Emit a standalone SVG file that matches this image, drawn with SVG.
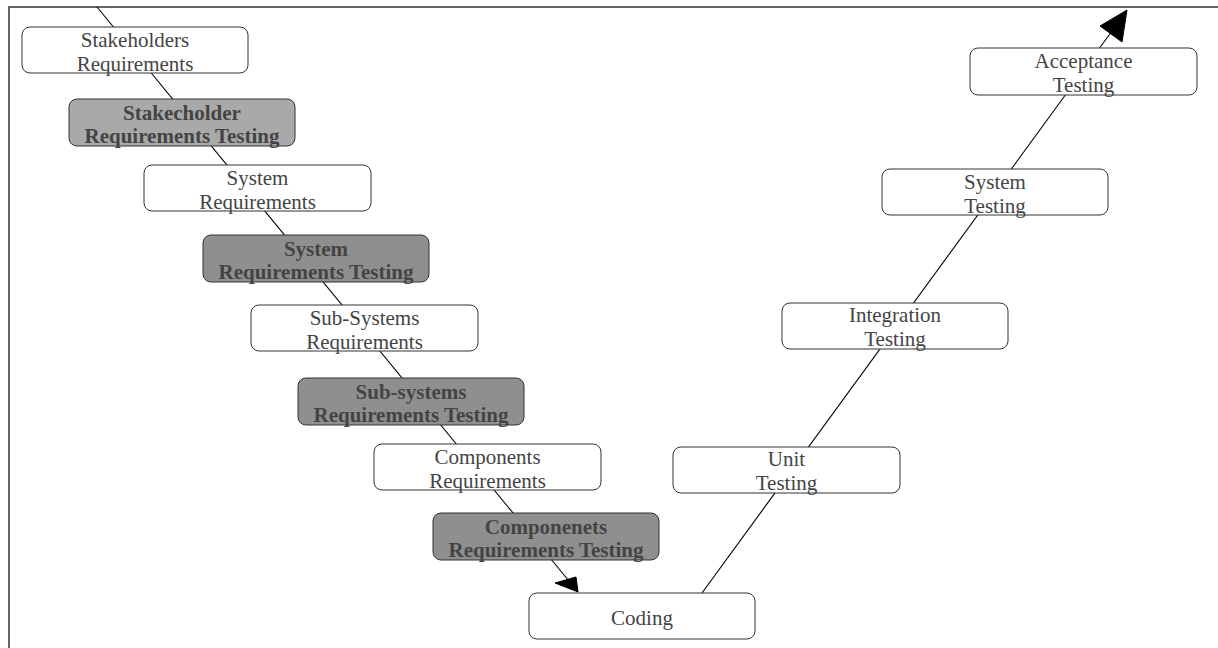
<svg xmlns="http://www.w3.org/2000/svg" width="1218" height="648" viewBox="0 0 1218 648">
<style>
.box{fill:#ffffff;stroke:#333333;stroke-width:1}
.tbox{stroke:#333333;stroke-width:1;fill:#8f8f8f}
.t{font-family:"Liberation Serif","Times New Roman",serif;font-size:21px;fill:#444444;text-anchor:middle}
.b{font-weight:bold}
.conn{stroke:#000000;stroke-width:1.1;fill:none}
.head{fill:#000000;stroke:#000000;stroke-width:1}
</style>
<rect x="0" y="0" width="1218" height="648" fill="#ffffff"/>
<g id="frame">
<path d="M9,648 L9,7 L1218,7" fill="none" stroke="#666666" stroke-width="2"/>
</g>
<g id="connectors">
<line class="conn" x1="97" y1="7" x2="569" y2="581"/>
<polygon class="head" points="578,592 555,583 576,577"/>
<line class="conn" x1="702" y1="593" x2="1112" y2="31"/>
<polygon class="head" points="1127,10 1100,26 1122,42"/>
</g>
<g id="stakeholders-requirements">
<rect class="box" x="22" y="27" width="226" height="46" rx="8"/>
<text class="t" x="135" y="47">Stakeholders</text>
<text class="t" x="135" y="71">Requirements</text>
</g>
<g id="stakeholder-requirements-testing">
<rect class="tbox" x="69" y="99" width="226" height="47" rx="8" style="fill:#a9a9a9"/>
<text class="t b" x="182" y="120">Stakecholder</text>
<text class="t b" x="182" y="143">Requirements Testing</text>
</g>
<g id="system-requirements">
<rect class="box" x="144" y="165" width="227" height="46" rx="8"/>
<text class="t" x="257.5" y="185">System</text>
<text class="t" x="257.5" y="209">Requirements</text>
</g>
<g id="system-requirements-testing">
<rect class="tbox" x="203" y="235" width="226" height="47" rx="8"/>
<text class="t b" x="316" y="256">System</text>
<text class="t b" x="316" y="279">Requirements Testing</text>
</g>
<g id="subsystems-requirements">
<rect class="box" x="251" y="305" width="227" height="46" rx="8"/>
<text class="t" x="364.5" y="325">Sub-Systems</text>
<text class="t" x="364.5" y="349">Requirements</text>
</g>
<g id="subsystems-requirements-testing">
<rect class="tbox" x="298" y="378" width="226" height="47" rx="8"/>
<text class="t b" x="411" y="399">Sub-systems</text>
<text class="t b" x="411" y="422">Requirements Testing</text>
</g>
<g id="components-requirements">
<rect class="box" x="374" y="444" width="227" height="46" rx="8"/>
<text class="t" x="487.5" y="464">Components</text>
<text class="t" x="487.5" y="488">Requirements</text>
</g>
<g id="components-requirements-testing">
<rect class="tbox" x="433" y="513" width="226" height="47" rx="8"/>
<text class="t b" x="546" y="534">Componenets</text>
<text class="t b" x="546" y="557">Requirements Testing</text>
</g>
<g id="coding">
<rect class="box" x="529" y="593" width="226" height="46" rx="8"/>
<text class="t" x="642" y="625">Coding</text>
</g>
<g id="unit-testing">
<rect class="box" x="673" y="447" width="227" height="46" rx="8"/>
<text class="t" x="786.5" y="466">Unit</text>
<text class="t" x="786.5" y="490">Testing</text>
</g>
<g id="integration-testing">
<rect class="box" x="782" y="303" width="226" height="46" rx="8"/>
<text class="t" x="895" y="322">Integration</text>
<text class="t" x="895" y="346">Testing</text>
</g>
<g id="system-testing">
<rect class="box" x="882" y="169" width="226" height="46" rx="8"/>
<text class="t" x="995" y="189">System</text>
<text class="t" x="995" y="213">Testing</text>
</g>
<g id="acceptance-testing">
<rect class="box" x="970" y="48" width="227" height="47" rx="8"/>
<text class="t" x="1083.5" y="68">Acceptance</text>
<text class="t" x="1083.5" y="92">Testing</text>
</g>
</svg>
